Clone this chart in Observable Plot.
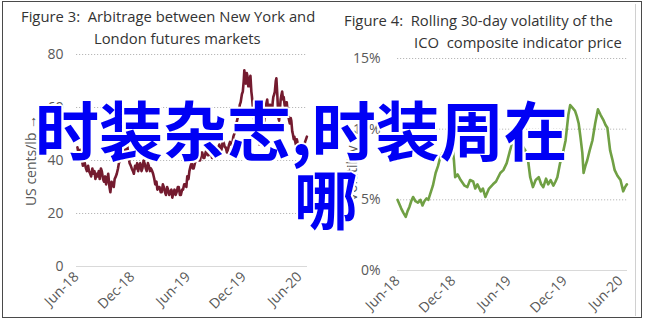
<!DOCTYPE html>
<html>
<head>
<meta charset="utf-8">
<script src="https://cdn.jsdelivr.net/npm/d3@7"></script>
<script src="https://cdn.jsdelivr.net/npm/@observablehq/plot@0.6"></script>
<style>
  html, body { margin: 0; padding: 0; background: #fff; }
  #wrap { position: relative; width: 645px; height: 323px; overflow: hidden; background: #fff; }
  .frame { position: absolute; left: 2px; top: 1px; width: 640px; height: 317px; border: 1px solid #4a4a4a; box-sizing: border-box; }
  .sep { position: absolute; left: 635px; top: 4px; width: 1px; height: 312px; background: #d0d0d0; }
  .title { position: absolute; font-family: "Open Sans", sans-serif; font-size: 14.8px; color: #333; line-height: 22px; white-space: pre; }
  .panel { position: absolute; top: 40px; }
  .overlay { position: absolute; font-family: "Noto Sans CJK SC", sans-serif; font-weight: 700; font-size: 64px; line-height: 64px; color: #0000f5; white-space: pre;
    text-shadow: 2px 0 0 #fff, -2px 0 0 #fff, 0 2px 0 #fff, 0 -2px 0 #fff, 1.5px 1.5px 0 #fff, -1.5px -1.5px 0 #fff, 1.5px -1.5px 0 #fff, -1.5px 1.5px 0 #fff; }
</style>
</head>
<body>
<div id="wrap">
  <div class="frame"></div>
  <div class="sep"></div>
  <div class="title" style="left:21px; top:5px;">Figure 3:  Arbitrage between New York and</div>
  <div class="title" style="left:94px; top:27px;">London futures markets</div>
  <div class="title" style="left:344px; top:9px;">Figure 4:  Rolling 30-day volatility of the</div>
  <div class="title" style="left:414px; top:31px;">ICO  composite indicator price</div>
  <div id="left" class="panel" style="left:0px;"></div>
  <div id="right" class="panel" style="left:322px;"></div>
  <div class="overlay" style="left:35px; top:95px;">时装杂志,时装周在</div>
  <div class="overlay" style="left:294px; top:164px;">哪</div>
</div>
<script>
// ---- Data ----
const tickDates = ["2018-06-01", "2018-12-01", "2019-06-01", "2019-12-01", "2020-06-01"];
const tickLabels = ["Jun-18", "Dec-18", "Jun-19", "Dec-19", "Jun-20"];

const arbTicks = [0, 20, 40, 60, 80];
const volTicks = [0, 0.05, 0.10, 0.15];
const volTickLabels = ["0%", "5%", "10%", "15%"];

const arbDates = ["2018-06-04","2018-06-07","2018-06-10","2018-06-13","2018-06-16","2018-06-19","2018-06-22","2018-06-25","2018-06-28","2018-07-02","2018-07-05","2018-07-09","2018-07-12","2018-07-16","2018-07-19","2018-07-23","2018-07-26","2018-07-30","2018-08-02","2018-08-06","2018-08-09","2018-08-13","2018-08-16","2018-08-20","2018-08-23","2018-08-27","2018-08-30","2018-09-03","2018-09-06","2018-09-10","2018-09-13","2018-09-17","2018-09-20","2018-09-24","2018-09-27","2018-10-01","2018-10-04","2018-10-08","2018-10-11","2018-10-15","2018-10-18","2018-10-22","2018-10-25","2018-10-29","2018-11-01","2018-11-05","2018-11-08","2018-11-12","2018-11-15","2018-11-19","2018-11-22","2018-11-26","2018-11-29","2018-12-03","2018-12-06","2018-12-10","2018-12-13","2018-12-17","2018-12-20","2018-12-24","2018-12-27","2018-12-31","2019-01-03","2019-01-07","2019-01-10","2019-01-14","2019-01-17","2019-01-21","2019-01-24","2019-01-28","2019-01-31","2019-02-04","2019-02-07","2019-02-11","2019-02-14","2019-02-18","2019-02-21","2019-02-25","2019-02-28","2019-03-04","2019-03-07","2019-03-11","2019-03-14","2019-03-18","2019-03-21","2019-03-25","2019-03-28","2019-04-01","2019-04-04","2019-04-08","2019-04-11","2019-04-15","2019-04-18","2019-04-22","2019-04-25","2019-04-29","2019-05-02","2019-05-06","2019-05-09","2019-05-13","2019-05-16","2019-05-20","2019-05-23","2019-05-27","2019-05-30","2019-06-03","2019-06-06","2019-06-10","2019-06-13","2019-06-17","2019-06-20","2019-06-24","2019-06-27","2019-07-01","2019-07-04","2019-07-08","2019-07-11","2019-07-15","2019-07-18","2019-07-22","2019-07-25","2019-07-29","2019-08-01","2019-08-05","2019-08-08","2019-08-12","2019-08-15","2019-08-19","2019-08-22","2019-08-26","2019-08-29","2019-09-02","2019-09-05","2019-09-09","2019-09-12","2019-09-16","2019-09-19","2019-09-23","2019-09-26","2019-09-30","2019-10-03","2019-10-07","2019-10-10","2019-10-14","2019-10-17","2019-10-21","2019-10-24","2019-10-28","2019-10-31","2019-11-04","2019-11-07","2019-11-11","2019-11-14","2019-11-18","2019-11-21","2019-11-25","2019-11-28","2019-12-01","2019-12-03","2019-12-06","2019-12-08","2019-12-11","2019-12-13","2019-12-16","2019-12-18","2019-12-21","2019-12-23","2019-12-26","2019-12-28","2019-12-31","2020-01-02","2020-01-05","2020-01-07","2020-01-10","2020-01-12","2020-01-15","2020-01-17","2020-01-20","2020-01-22","2020-01-25","2020-01-27","2020-01-30","2020-02-01","2020-02-04","2020-02-06","2020-02-09","2020-02-11","2020-02-14","2020-02-16","2020-02-19","2020-02-21","2020-02-24","2020-02-26","2020-02-29","2020-03-02","2020-03-05","2020-03-07","2020-03-10","2020-03-12","2020-03-15","2020-03-17","2020-03-20","2020-03-22","2020-03-24","2020-03-26","2020-03-29","2020-03-31","2020-04-03","2020-04-05","2020-04-08","2020-04-10","2020-04-13","2020-04-15","2020-04-18","2020-04-20","2020-04-23","2020-04-25","2020-04-28","2020-04-30","2020-05-03","2020-05-05","2020-05-08","2020-05-10","2020-05-13","2020-05-15","2020-05-18","2020-05-20","2020-05-23","2020-05-25","2020-05-28","2020-05-30","2020-06-02","2020-06-04","2020-06-07","2020-06-09","2020-06-12","2020-06-14","2020-06-17","2020-06-19","2020-06-22","2020-06-25"];
const arbValues = [45,43,41,44,42,40,38,41,39,37,36,38,36,35,34,37,35,36,33,35,34,36,33,37,36,33,32,34,31,33,35,30,28,32,31,30,33,34,35,37,39,40,42,41,46,44,43,47,45,41,39,38,37,36,35,38,37,39,36,38,39,36,37,40,39,37,36,39,38,36,37,36,35,33,31,32,29,30,30,28,28,31,30,28,27,30,29,27,28,29,26,28,29,27,28,30,30,27,27,29,29,31,31,30,34,33,36,38,39,37,37,39,40,41,42,40,40,43,43,41,41,43,44,42,42,44,44,41,41,44,44,42,43,45,46,44,44,47,47,45,45,43,44,46,47,46,46,49,50,52,54,56,57,61,62,65,66,70,74,71,69,73,72,68,68,71,72,66,64,60,58,55,52,50,48,51,50,47,46,49,49,52,52,54,55,58,60,62,63,59,58,61,61,57,57,62,64,65,66,70,71,65,60,56,55,60,63,65,66,63,64,61,60,62,62,58,57,55,54,56,55,51,50,48,49,47,46,48,47,45,44,43,43,45,46,44,44,46,47,48,49];

const volDates = ["2018-06-01","2018-06-07","2018-06-13","2018-06-20","2018-06-28","2018-07-04","2018-07-10","2018-07-16","2018-07-22","2018-07-30","2018-08-07","2018-08-15","2018-08-22","2018-08-28","2018-09-04","2018-09-10","2018-09-16","2018-09-25","2018-10-04","2018-10-12","2018-10-19","2018-10-27","2018-11-04","2018-11-13","2018-11-20","2018-11-28","2018-12-03","2018-12-07","2018-12-15","2018-12-25","2019-01-07","2019-01-16","2019-01-25","2019-02-04","2019-02-11","2019-02-18","2019-03-01","2019-03-08","2019-03-16","2019-03-28","2019-04-10","2019-04-20","2019-05-04","2019-05-14","2019-05-25","2019-06-05","2019-06-16","2019-06-28","2019-07-04","2019-07-10","2019-07-25","2019-08-03","2019-08-10","2019-08-19","2019-08-28","2019-09-07","2019-09-15","2019-09-22","2019-10-01","2019-10-08","2019-10-16","2019-10-25","2019-11-01","2019-11-07","2019-11-16","2019-11-25","2019-12-04","2019-12-13","2019-12-19","2019-12-27","2020-01-04","2020-01-10","2020-01-16","2020-01-22","2020-01-28","2020-02-01","2020-02-07","2020-02-13","2020-02-21","2020-03-01","2020-03-10","2020-03-19","2020-03-28","2020-04-07","2020-04-13","2020-04-19","2020-04-28","2020-05-06","2020-05-13","2020-05-22","2020-06-01","2020-06-10","2020-06-16","2020-06-22"];
const volValues = [0.050,0.047,0.044,0.041,0.038,0.042,0.045,0.049,0.052,0.049,0.048,0.050,0.046,0.049,0.051,0.050,0.054,0.060,0.069,0.074,0.080,0.083,0.086,0.091,0.089,0.088,0.078,0.066,0.068,0.064,0.060,0.059,0.064,0.063,0.058,0.061,0.056,0.058,0.052,0.058,0.061,0.063,0.069,0.071,0.076,0.085,0.093,0.099,0.094,0.090,0.085,0.078,0.066,0.059,0.064,0.066,0.061,0.059,0.065,0.061,0.064,0.060,0.063,0.066,0.076,0.083,0.092,0.110,0.117,0.115,0.113,0.109,0.104,0.094,0.083,0.069,0.074,0.078,0.085,0.092,0.104,0.114,0.110,0.106,0.103,0.101,0.085,0.078,0.071,0.067,0.064,0.056,0.059,0.061];

// ---- Build ----
const parse = d3.utcParse("%Y-%m-%d");
const tickDateObjs = tickDates.map(parse);
const labelFor = new Map(tickDateObjs.map((d, i) => [+d, tickLabels[i]]));
const arb = arbDates.map((d, i) => ({date: parse(d), value: arbValues[i]}));
const vol = volDates.map((d, i) => ({date: parse(d), value: volValues[i]}));
const volLabelFor = new Map(volTicks.map((v, i) => [v, volTickLabels[i]]));

const commonStyle = {fontFamily: "'Open Sans', sans-serif", fontSize: "14px", color: "#595959", background: "transparent", overflow: "visible"};

const left = Plot.plot({
  width: 322, height: 283,
  marginLeft: 76, marginRight: 15, marginTop: 14, marginBottom: 57,
  style: commonStyle,
  x: {type: "utc", domain: [parse("2018-06-01"), parse("2020-06-27")]},
  y: {domain: [0, 80]},
  marks: [
    Plot.gridY(arbTicks.filter(t => t > 0), {stroke: "#b8b8b8", strokeOpacity: 1, strokeDasharray: "1.2,1.8", strokeWidth: 1}),
    Plot.ruleY([0], {stroke: "#d9d9d9", strokeWidth: 1.2}),
    Plot.axisY({ticks: arbTicks, tickSize: 0, tickPadding: 13, label: "US cents/lb", labelAnchor: "center", labelOffset: 50, fill: "#595959"}),
    Plot.axisX({ticks: tickDateObjs, tickFormat: d => labelFor.get(+d), tickRotate: -45, tickSize: 0, tickPadding: 8, label: null, fill: "#595959"}),
    Plot.line(arb, {x: "date", y: "value", stroke: "#741b2f", strokeWidth: 2.6, strokeLinejoin: "round"})
  ]
});
document.getElementById("left").appendChild(left);

const right = Plot.plot({
  width: 323, height: 283,
  marginLeft: 75, marginRight: 18, marginTop: 18, marginBottom: 53,
  style: commonStyle,
  x: {type: "utc", domain: [parse("2018-06-01"), parse("2020-06-24")]},
  y: {domain: [0, 0.15]},
  marks: [
    Plot.gridY(volTicks.filter(t => t > 0), {stroke: "#b8b8b8", strokeOpacity: 1, strokeDasharray: "1.2,1.8", strokeWidth: 1}),
    Plot.ruleY([0], {stroke: "#d9d9d9", strokeWidth: 1.2}),
    Plot.axisY({ticks: volTicks, tickFormat: v => volLabelFor.get(v), tickSize: 0, tickPadding: 17, label: "Volatility", labelAnchor: "center", labelOffset: 50, fill: "#595959"}),
    Plot.axisX({ticks: tickDateObjs, tickFormat: d => labelFor.get(+d), tickRotate: -45, tickSize: 0, tickPadding: 8, label: null, fill: "#595959"}),
    Plot.line(vol, {x: "date", y: "value", stroke: "#70a044", strokeWidth: 2.6, strokeLinejoin: "round"})
  ]
});
document.getElementById("right").appendChild(right);
</script>
</body>
</html>
